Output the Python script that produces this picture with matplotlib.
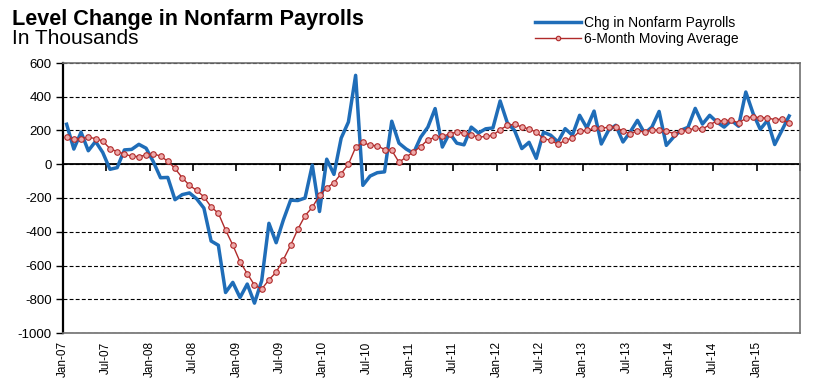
import matplotlib
matplotlib.use("Agg")
import matplotlib.pyplot as plt
from matplotlib.lines import Line2D

plt.rcParams['font.family'] = ['Liberation Sans', 'DejaVu Sans']

# ---- data (thousands), monthly Jan-07 .. May-15 ----
payrolls = [237, 90, 190, 80, 135, 70, -30, -20, 85, 88, 118, 95,
            15, -80, -78, -210, -180, -170, -205, -260, -455, -480, -760, -700,
            -790, -710, -823, -690, -350, -465, -330, -213, -215, -200, -5, -280,
            30, -60, 155, 250, 527, -125, -70, -50, -45, 255, 125, 90,
            65, 160, 220, 330, 102, 185, 125, 115, 220, 185, 210, 215,
            375, 245, 200, 93, 130, 35, 190, 172, 132, 211, 172, 290,
            215, 315, 120, 201, 231, 132, 191, 260, 183, 220, 313, 112,
            161, 201, 219, 331, 238, 290, 250, 220, 260, 225, 428, 302,
            207, 260, 117, 201, 286]

moving_avg = [160, 148, 152, 160, 152, 138, 92, 75, 60, 48, 45, 55,
              62, 48, 18, -25, -80, -125, -155, -193, -253, -290, -390, -479,
              -578, -648, -716, -740, -685, -640, -565, -480, -385, -305, -255, -185,
              -140, -110, -55, 0, 100, 130, 112, 110, 87, 83, 12, 43,
              73, 105, 145, 160, 165, 180, 191, 185, 175, 160, 165, 172,
              205, 230, 237, 220, 210, 190, 152, 142, 118, 142, 155, 195,
              200, 213, 212, 220, 222, 195, 182, 198, 191, 205, 201, 197,
              182, 195, 201, 215, 208, 235, 256, 258, 262, 245, 272, 282,
              275, 275, 264, 268, 243]

tick_labels = ['Jan-07', 'Jul-07', 'Jan-08', 'Jul-08', 'Jan-09', 'Jul-09',
               'Jan-10', 'Jul-10', 'Jan-11', 'Jul-11', 'Jan-12', 'Jul-12',
               'Jan-13', 'Jul-13', 'Jan-14', 'Jul-14', 'Jan-15']
y_ticks = [-1000, -800, -600, -400, -200, 0, 200, 400, 600]

series_names = ['Chg in Nonfarm Payrolls', '6-Month Moving Average']

# ---- figure ----
fig = plt.figure(figsize=(8.22, 3.88), dpi=100)
ax = fig.add_axes([63/822, 1-333/388, (800-63)/822, (333-63)/388])

x = list(range(len(payrolls)))
blue = '#1f6db8'
red = '#b02a2a'
ax.plot(x, payrolls, color=blue, lw=2.5, solid_joinstyle='round', zorder=3)
ax.plot(x, moving_avg, color=red, lw=1.0, marker='o', ms=4.0,
        mfc='#eeaaaa', mec=red, mew=0.8, zorder=4)

ax.set_xlim(-0.5, len(payrolls) + 0.5)
ax.set_ylim(y_ticks[0], y_ticks[-1])

# y axis
ax.set_yticks(y_ticks)
ax.set_yticklabels([str(v) for v in y_ticks])
ax.tick_params(axis='y', direction='out', length=5, width=1, labelsize=9.5,
               pad=3, color='black')
ax.yaxis.grid(True, color='black', lw=0.8, ls=(0, (3.5, 2)))
ax.set_axisbelow(True)

# x axis labels at bottom (no tick marks)
step = 6
label_pos = [step * k - 0.5 for k in range(len(tick_labels))]
ax.set_xticks(label_pos)
ax.set_xticklabels(tick_labels, rotation=90, fontsize=8.5)
ax.tick_params(axis='x', length=0, pad=6)

# tick marks on zero line
sec = ax.secondary_xaxis(0, transform=ax.transData)
mark_pos = [step * k - 0.5 for k in range(1, len(tick_labels) + 2)]
sec.set_xticks(mark_pos)
sec.set_xticklabels([])
sec.tick_params(axis='x', direction='out', length=5, width=1.2, color='black')
sec.spines['bottom'].set_color('black')
sec.spines['bottom'].set_linewidth(1.3)

for s in ['top', 'right', 'bottom']:
    ax.spines[s].set_color('#6f6f6f')
    ax.spines[s].set_linewidth(1.2)
ax.spines['left'].set_color('black')
ax.spines['left'].set_linewidth(1.6)

# titles
fig.text(12/822, 1-25/388, 'Level Change in Nonfarm Payrolls', fontsize=15.6,
         fontweight='bold', va='baseline', ha='left')
fig.text(12/822, 1-43.5/388, 'In Thousands', fontsize=15,
         va='baseline', ha='left')

# legend
handles = [Line2D([], [], color=blue, lw=2.5),
           Line2D([], [], color=red, lw=1.0, marker='o', ms=3.2,
                  mfc='#eeaaaa', mec=red, mew=0.8)]
fig.legend(handles, series_names, loc='center left',
           bbox_to_anchor=(535/822, 1-31/388), frameon=False, fontsize=10,
           handlelength=3.3, handletextpad=0.2, labelspacing=0.1,
           borderpad=0, borderaxespad=0)

fig.savefig('out.png', dpi=100)
